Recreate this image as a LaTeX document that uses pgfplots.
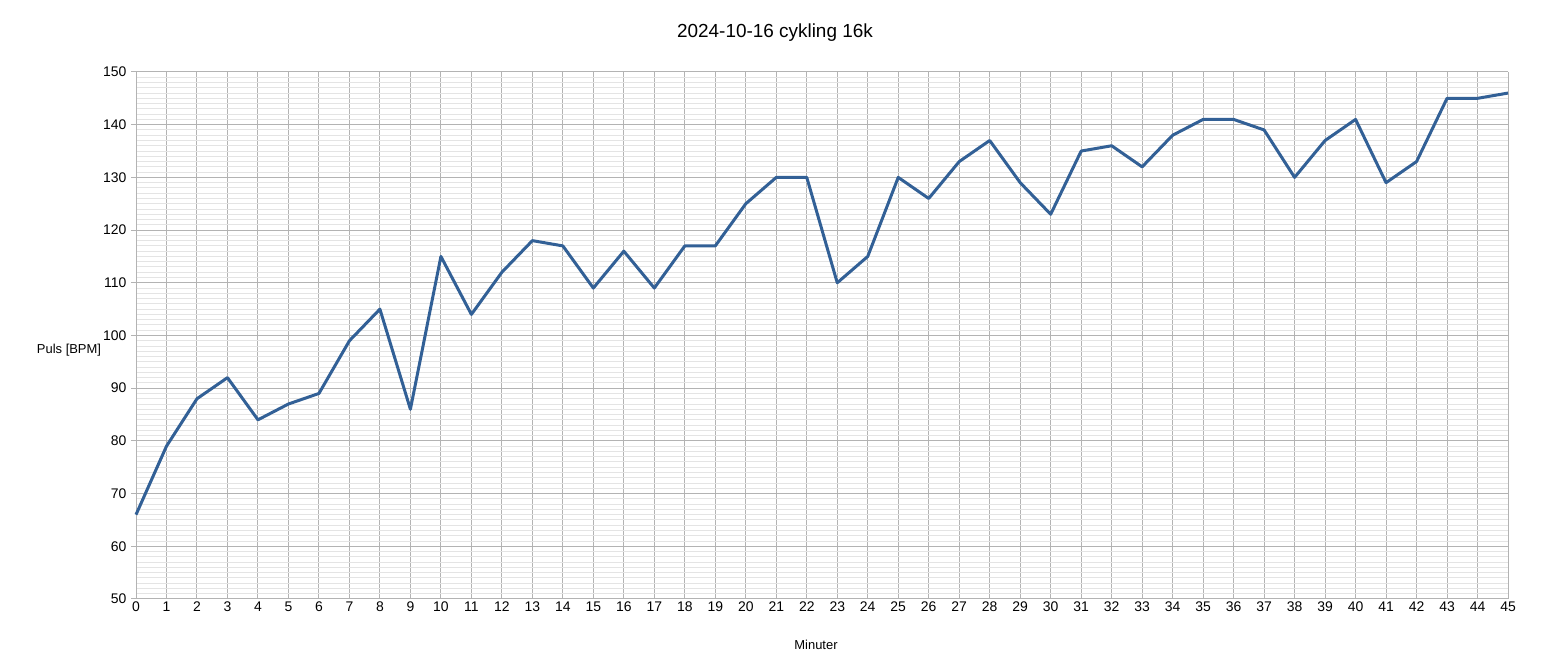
\documentclass[border=0pt]{standalone}
\usepackage{pgfplots}
\pgfplotsset{compat=1.18}
\usepackage{fontspec}
\setmainfont{Liberation Sans}
\definecolor{linecol}{RGB}{50,96,150}
\definecolor{majgrid}{RGB}{179,179,179}
\definecolor{mingrid}{RGB}{228,228,228}
\begin{document}
\begin{tikzpicture}[x=1bp,y=1bp]
\useasboundingbox (0,0) rectangle (1553,664);
\begin{axis}[
  at={(136bp,65bp)}, anchor=south west,
  width=1372bp, height=527bp, scale only axis,
  xmin=0, xmax=45, ymin=50, ymax=150,
  xtick={0,1,...,45}, ytick={50,60,...,150},
  minor y tick num=9,
  grid=both,
  major grid style={majgrid, line width=1bp},
  minor grid style={mingrid, line width=1bp},
  axis line style={majgrid, line width=1bp},
  axis x line*=bottom, axis y line*=left,
  x axis line style={-}, y axis line style={-},
  tick style={majgrid, line width=1bp},
  major tick length=5bp, minor tick length=0bp,
  xtick style={draw=none},
  ytick align=outside,
  tick label style={font=\fontsize{14}{16}\selectfont},
  /pgf/number format/assume math mode=true,
  xticklabel style={yshift=1bp},
  yticklabel style={xshift=-1bp},
  clip=false,
]
\addplot[linecol, line width=3bp, line join=round] coordinates {
(0,66) (1,79) (2,88) (3,92) (4,84) (5,87) (6,89) (7,99) (8,105) (9,86)
(10,115) (11,104) (12,112) (13,118) (14,117) (15,109) (16,116) (17,109) (18,117) (19,117)
(20,125) (21,130) (22,130) (23,110) (24,115) (25,130) (26,126) (27,133) (28,137) (29,129)
(30,123) (31,135) (32,136) (33,132) (34,138) (35,141) (36,141) (37,139) (38,130) (39,137)
(40,141) (41,129) (42,133) (43,145) (44,145) (45,146)};
\end{axis}
\node at (775,631) {\fontsize{19}{22}\selectfont 2024-10-16 cykling 16k};
\node at (69,314) {\fontsize{13}{15}\selectfont Puls [BPM]};
\node at (816,19) {\fontsize{13}{15}\selectfont Minuter};
\end{tikzpicture}
\end{document}
